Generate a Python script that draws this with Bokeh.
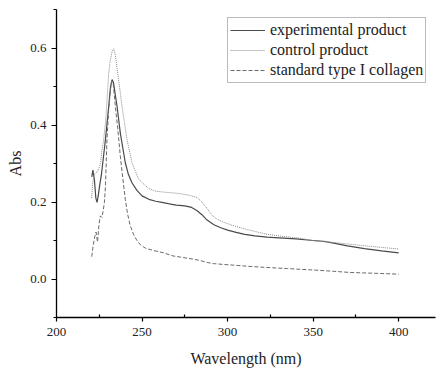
from bokeh.plotting import figure
from bokeh.models import FixedTicker, Range1d, Legend, LegendItem
from bokeh.embed import file_html
from bokeh.resources import INLINE

FONT = "'Liberation Serif', 'Times New Roman', serif"

series_names = ["experimental product", "control product", "standard type I collagen"]

exp_x = [220.6, 221.3, 222.2, 223.0, 223.7, 224.5, 225.3, 226.2, 227.0, 228.6,
         230.5, 231.6, 232.5, 233.3, 234.3, 235.4, 237.3, 240.2, 242.0, 244.1,
         247.0, 250.0, 254.0, 258.0, 261.6, 266.0, 270.0, 275.0, 279.0, 282.0,
         285.0, 288.0, 292.0, 296.0, 300.0, 305.0, 310.0, 316.0, 323.0, 330.0,
         340.0, 350.0, 356.0, 362.0, 370.0, 380.0, 390.0, 400.0]
exp_y = [0.265, 0.283, 0.255, 0.21, 0.199, 0.22, 0.245, 0.27, 0.30, 0.362,
         0.448, 0.50, 0.518, 0.51, 0.48, 0.448, 0.379, 0.302, 0.272, 0.25,
         0.23, 0.216, 0.207, 0.202, 0.199, 0.195, 0.192, 0.19, 0.186, 0.178,
         0.167, 0.153, 0.141, 0.133, 0.127, 0.121, 0.116, 0.112, 0.109, 0.107,
         0.104, 0.1, 0.098, 0.093, 0.086, 0.079, 0.073, 0.068]

ctl_x = [220.5, 221.2, 222.0, 223.0, 224.0, 225.0, 225.7, 226.6, 227.5, 228.6,
         229.6, 230.5, 231.5, 232.5, 233.4, 234.3, 235.3, 236.3, 238.3, 241.2,
         244.1, 248.0, 253.8, 258.0, 262.0, 267.0, 272.0, 277.0, 282.0, 285.0,
         288.0, 291.0, 294.0, 298.0, 303.0, 310.0, 322.0, 330.0, 342.0, 352.0,
         362.0, 372.0, 381.0, 390.0, 400.0]
ctl_y = [0.21, 0.25, 0.27, 0.275, 0.28, 0.29, 0.30, 0.336, 0.36, 0.405,
         0.47, 0.534, 0.57, 0.59, 0.598, 0.585, 0.55, 0.517, 0.448, 0.362,
         0.302, 0.259, 0.235, 0.228, 0.226, 0.224, 0.222, 0.218, 0.212, 0.2,
         0.183, 0.165, 0.155, 0.147, 0.139, 0.13, 0.117, 0.112, 0.106, 0.098,
         0.095, 0.09, 0.086, 0.082, 0.078]

std_x = [220.6, 221.5, 222.4, 223.1, 224.0, 224.8, 225.6, 226.5, 227.2, 228.0,
         228.6, 229.5, 230.5, 231.5, 232.3, 233.2, 234.4, 235.8, 237.3, 238.8,
         240.2, 241.5, 243.0, 245.1, 247.0, 249.0, 252.0, 256.7, 262.6, 268.0,
         272.3, 278.0, 284.0, 288.0, 291.7, 297.0, 303.4, 312.0, 322.8, 335.0,
         351.7, 362.0, 371.4, 385.0, 400.0]
std_y = [0.058, 0.09, 0.11, 0.122, 0.096, 0.14, 0.164, 0.16, 0.175, 0.199,
         0.24, 0.362, 0.44, 0.491, 0.515, 0.505, 0.448, 0.39, 0.319, 0.26,
         0.207, 0.17, 0.14, 0.115, 0.1, 0.089, 0.08, 0.074, 0.068, 0.06,
         0.057, 0.053, 0.048, 0.043, 0.04, 0.038, 0.036, 0.033, 0.03, 0.027,
         0.023, 0.02, 0.017, 0.015, 0.0125]

x_major = [200, 250, 300, 350, 400]
x_minor = [225, 275, 325, 375]
y_major = [0.0, 0.2, 0.4, 0.6]
y_minor = [-0.1, 0.1, 0.3, 0.5, 0.7]

p = figure(width=436, height=369, output_backend="svg", toolbar_location=None,
           x_range=Range1d(200, 421.5), y_range=Range1d(-0.1, 0.7))
p.min_border_left = 56
p.min_border_top = 9
p.min_border_right = 1
p.min_border_bottom = 50
p.outline_line_color = None
p.background_fill_color = "white"
p.border_fill_color = "white"
p.xgrid.visible = False
p.ygrid.visible = False

r1 = p.line(exp_x, exp_y, line_color="#4a4a4a", line_width=1.2)
r2 = p.line(ctl_x, ctl_y, line_color="#8a8a8a", line_width=1.0, line_dash="1 1")
r3 = p.line(std_x, std_y, line_color="#6a6a6a", line_width=1.0, line_dash="4 2")

xa = p.xaxis[0]
xa.ticker = FixedTicker(ticks=x_major, minor_ticks=x_minor)
xa.axis_label = "Wavelength (nm)"
ya = p.yaxis[0]
ya.ticker = FixedTicker(ticks=y_major, minor_ticks=y_minor)
ya.major_label_overrides = {v: f"{v:.1f}" for v in y_major}
ya.axis_label = "Abs"

for ax in (xa, ya):
    ax.axis_line_color = "black"
    ax.axis_line_width = 1.3
    ax.major_tick_line_color = "black"
    ax.minor_tick_line_color = "black"
    ax.major_tick_line_width = 1.2
    ax.minor_tick_line_width = 1.2
    ax.major_label_text_font = FONT
    ax.major_label_text_font_size = "13px"
    ax.major_label_text_color = "#222222"
    ax.axis_label_text_font = FONT
    ax.axis_label_text_font_size = "16px"
    ax.axis_label_text_font_style = "normal"
    ax.axis_label_text_color = "#222222"

xa.major_tick_in = 0
xa.major_tick_out = 4
xa.minor_tick_in = 3
xa.minor_tick_out = 0
xa.major_label_standoff = 6
xa.axis_label_standoff = 11

ya.major_tick_in = 0
ya.major_tick_out = 5
ya.minor_tick_in = 0
ya.minor_tick_out = 3
ya.major_label_standoff = 5
ya.axis_label_standoff = 3

legend = Legend(items=[LegendItem(label=series_names[0], renderers=[r1]),
                       LegendItem(label=series_names[1], renderers=[r2]),
                       LegendItem(label=series_names[2], renderers=[r3])],
                location=(171, 234))
legend.label_text_font = FONT
legend.label_text_font_size = "16px"
legend.label_text_color = "#222222"
legend.border_line_color = "#777777"
legend.border_line_width = 1
legend.padding = 2
legend.spacing = 0
legend.margin = 0
legend.glyph_width = 35
legend.glyph_height = 20
legend.label_height = 20
legend.label_standoff = 5
legend.background_fill_alpha = 1.0
p.add_layout(legend, "center")

open("out.html", "w").write(file_html(p, INLINE))
